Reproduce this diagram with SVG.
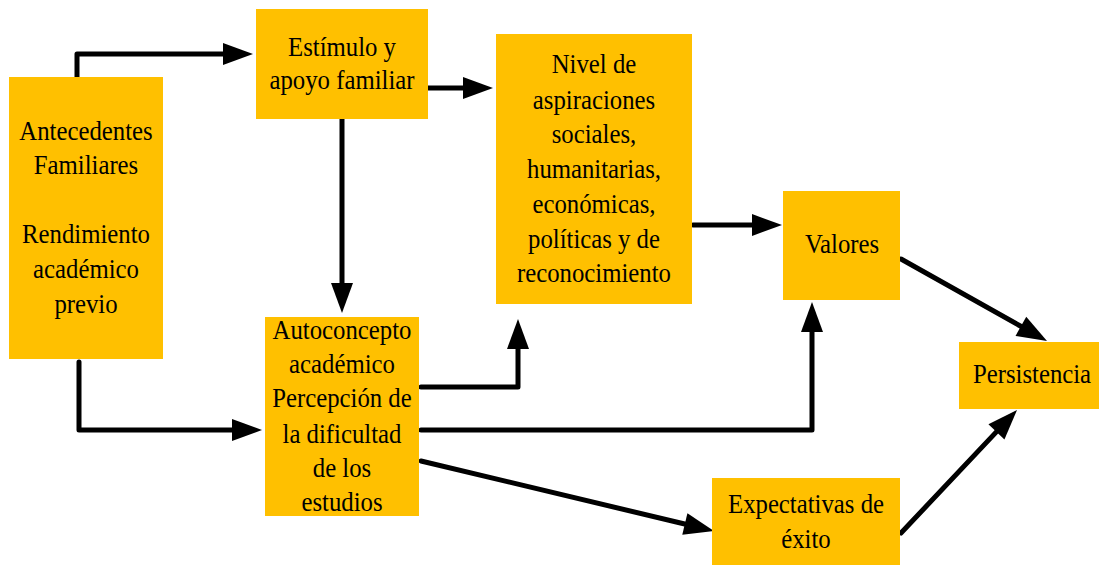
<svg xmlns="http://www.w3.org/2000/svg" width="1099" height="565" viewBox="0 0 1099 565">
<style>
.box{fill:#FFC000;}
.t{font-family:"Liberation Serif","Times New Roman",serif;font-size:27.5px;fill:#000;text-anchor:middle;}
.c{fill:none;stroke:#000;stroke-width:5;stroke-linecap:round;stroke-linejoin:round;}
</style>
<defs>
<marker id="ah" markerUnits="userSpaceOnUse" markerWidth="30" markerHeight="22" refX="2" refY="11" orient="auto" overflow="visible">
<path d="M0,0 L30,11 L0,22 z" fill="#000"/>
</marker>
</defs>
<rect width="1099" height="565" fill="#fff"/>
<g id="connectors">
<path class="c" marker-end="url(#ah)" d="M77,77 V54 H225"/>
<path class="c" marker-end="url(#ah)" d="M428,88 H465"/>
<path class="c" marker-end="url(#ah)" d="M342,119 V285"/>
<path class="c" marker-end="url(#ah)" d="M79,362 V430 H234"/>
<path class="c" marker-end="url(#ah)" d="M421,387 H518 V347"/>
<path class="c" marker-end="url(#ah)" d="M421,430 H812 V330"/>
<path class="c" marker-end="url(#ah)" d="M421,461 L686.8,524.5"/>
<path class="c" marker-end="url(#ah)" d="M693,225 H754"/>
<path class="c" marker-end="url(#ah)" d="M901,259 L1022.6,327.3"/>
<path class="c" marker-end="url(#ah)" d="M901,533 L997.8,430.4"/>
</g>
<g id="antecedentes">
<rect class="box" x="9" y="77" width="154" height="282"/>
<text class="t" transform="translate(86,0) scale(0.9,1)"><tspan x="0" y="140">Antecedentes</tspan><tspan x="0" y="174">Familiares</tspan><tspan x="0" y="243">Rendimiento</tspan><tspan x="0" y="278">académico</tspan><tspan x="0" y="313">previo</tspan></text>
</g>
<g id="estimulo">
<rect class="box" x="256" y="9" width="172" height="110"/>
<text class="t" transform="translate(342,0) scale(0.9,1)"><tspan x="0" y="56">Estímulo y</tspan><tspan x="0" y="89">apoyo familiar</tspan></text>
</g>
<g id="autoconcepto">
<rect class="box" x="265" y="317" width="154" height="199"/>
<text class="t" transform="translate(342,0) scale(0.9,1)"><tspan x="0" y="339">Autoconcepto</tspan><tspan x="0" y="373">académico</tspan><tspan x="0" y="407">Percepción de</tspan><tspan x="0" y="443">la dificultad</tspan><tspan x="0" y="477">de los</tspan><tspan x="0" y="511">estudios</tspan></text>
</g>
<g id="nivel">
<rect class="box" x="496" y="34" width="196" height="270"/>
<text class="t" transform="translate(594,0) scale(0.9,1)"><tspan x="0" y="73">Nivel de</tspan><tspan x="0" y="109">aspiraciones</tspan><tspan x="0" y="143">sociales,</tspan><tspan x="0" y="178">humanitarias,</tspan><tspan x="0" y="213">económicas,</tspan><tspan x="0" y="248">políticas y de</tspan><tspan x="0" y="282">reconocimiento</tspan></text>
</g>
<g id="valores">
<rect class="box" x="783" y="191" width="117" height="109"/>
<text class="t" transform="translate(842,0) scale(0.9,1)"><tspan x="0" y="253">Valores</tspan></text>
</g>
<g id="persistencia">
<rect class="box" x="959" y="342" width="140" height="67"/>
<text class="t" transform="translate(1032,0) scale(0.9,1)"><tspan x="0" y="383">Persistencia</tspan></text>
</g>
<g id="expectativas">
<rect class="box" x="712" y="478" width="188" height="87"/>
<text class="t" transform="translate(806,0) scale(0.9,1)"><tspan x="0" y="513">Expectativas de</tspan><tspan x="0" y="548">éxito</tspan></text>
</g>
</svg>
